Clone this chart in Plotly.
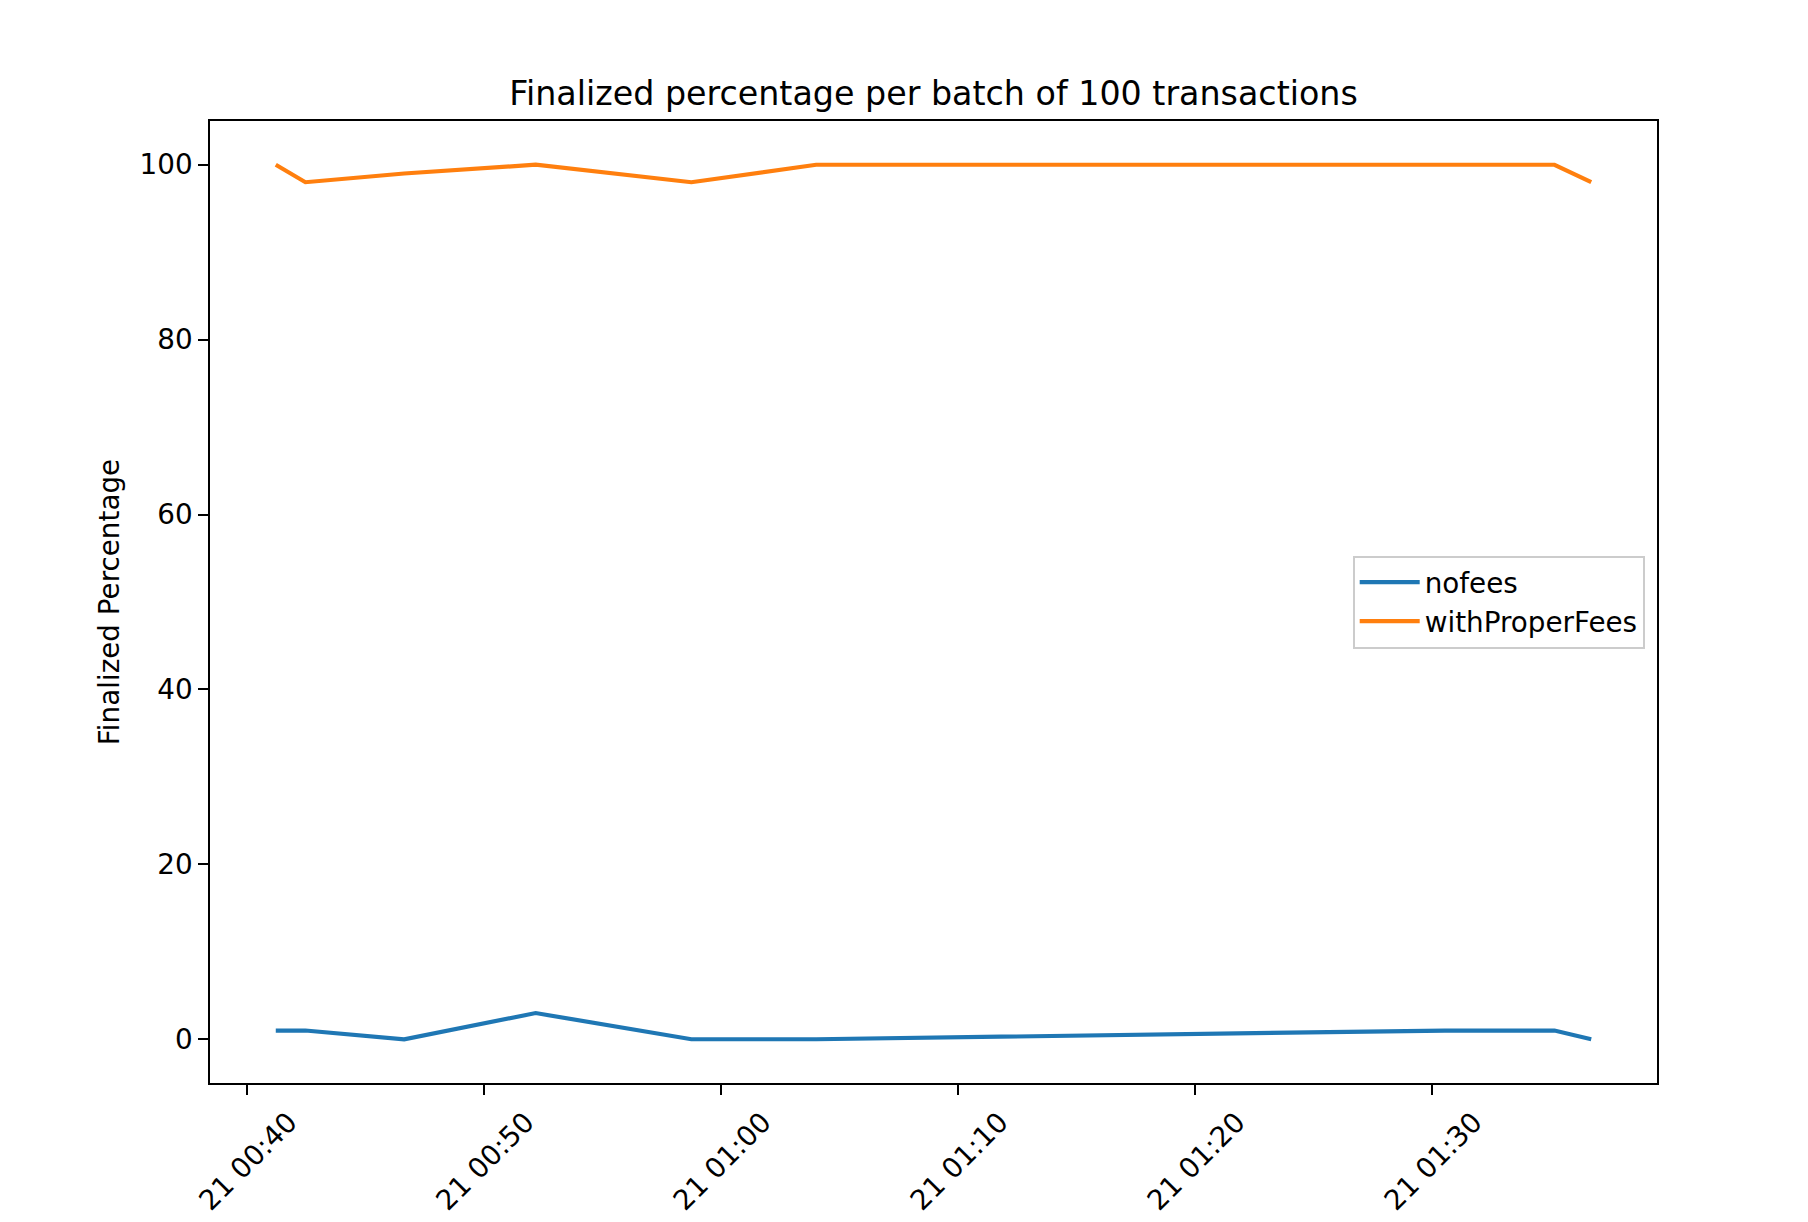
import plotly.graph_objects as go

times = ["2024-01-21 00:41:13", "2024-01-21 00:42:28", "2024-01-21 00:46:38",
         "2024-01-21 00:52:11", "2024-01-21 00:58:45", "2024-01-21 01:04:01",
         "2024-01-21 01:30:32", "2024-01-21 01:35:10", "2024-01-21 01:36:43"]
nofees = [1, 1, 0, 3, 0, 0, 1, 1, 0]
with_proper_fees = [100, 98, 99, 100, 98, 100, 100, 100, 98]

x_ticks = ["2024-01-21 00:40", "2024-01-21 00:50", "2024-01-21 01:00",
           "2024-01-21 01:10", "2024-01-21 01:20", "2024-01-21 01:30"]
y_ticks = [0, 20, 40, 60, 80, 100]
x_range = ["2024-01-21 00:38:26.5", "2024-01-21 01:39:29.5"]
y_range = [-5, 105]

FONT = "DejaVu Sans"
FS = 27.8

fig = go.Figure()
fig.add_trace(go.Scatter(x=times, y=nofees, mode="lines", name="nofees",
                         line=dict(color="#1f77b4", width=4.2)))
fig.add_trace(go.Scatter(x=times, y=with_proper_fees, mode="lines", name="withProperFees",
                         line=dict(color="#ff7f0e", width=4.2)))

fig.update_layout(
    width=1808, height=1222,
    margin=dict(l=202, r=159, t=113, b=147),
    paper_bgcolor="white", plot_bgcolor="white",
    font=dict(family=FONT, size=FS, color="black"),
    title=dict(text="Finalized percentage per batch of 100 transactions",
               x=0.5, xref="paper", xanchor="center",
               y=1 - 85 / 1222, yref="container", yanchor="middle",
               font=dict(family=FONT, size=33.3, color="black")),
    showlegend=True,
    legend=dict(x=0.9915, xanchor="right", y=0.5, yanchor="middle",
                bgcolor="rgba(255,255,255,0.8)", bordercolor="#cccccc", borderwidth=2,
                font=dict(family=FONT, size=FS, color="black"), itemwidth=60),
)

fig.update_xaxes(
    range=x_range, tickvals=x_ticks, tickformat="%d %H:%M", tickangle=-45,
    showgrid=False, zeroline=False,
    showline=True, linecolor="black", linewidth=2.2, mirror=True,
    ticks="outside", ticklen=9.7, tickwidth=2.2, tickcolor="black",
    ticklabelshift=42, tickfont=dict(family=FONT, size=FS, color="black"),
)
fig.update_yaxes(
    range=y_range, tickvals=y_ticks,
    showgrid=False, zeroline=False,
    showline=True, linecolor="black", linewidth=2.2, mirror=True,
    ticks="outside", ticklen=9.7, tickwidth=2.2, tickcolor="black",
    tickfont=dict(family=FONT, size=FS, color="black"),
    title=dict(text="Finalized Percentage", standoff=12,
               font=dict(family=FONT, size=FS, color="black")),
)

fig.write_html("out.html")
